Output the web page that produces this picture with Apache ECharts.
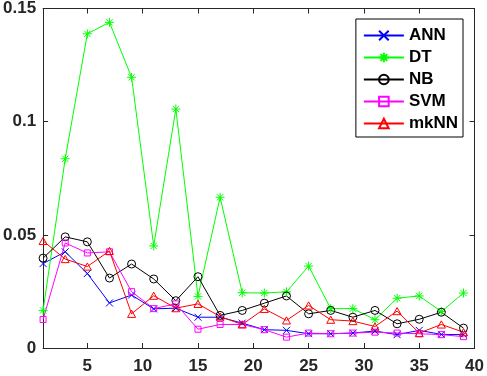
<!DOCTYPE html>
<html>
<head>
<meta charset="utf-8">
<script src="https://cdn.jsdelivr.net/npm/echarts@6/dist/echarts.min.js"></script>
<style>
  html, body { margin: 0; padding: 0; background: #fff; }
  #main { width: 487px; height: 376px; }
</style>
</head>
<body>
<div id="main"></div>
<script>
// x positions (odd steps 1..39)
const xs = [1, 3, 5, 7, 9, 11, 13, 15, 17, 19, 21, 23, 25, 27, 29, 31, 33, 35, 37, 39]
const xTicks = [5, 10, 15, 20, 25, 30, 35, 40]

const ann = [0.0373, 0.0425, 0.0329, 0.0199, 0.0234, 0.0173, 0.0176, 0.0136, 0.0136, 0.0110,
  0.0081, 0.0078, 0.0063, 0.0063, 0.0066, 0.0075, 0.0059, 0.0078, 0.0060, 0.0059]
const dt = [0.0166, 0.0836, 0.1388, 0.1439, 0.1196, 0.0451, 0.1056, 0.0228, 0.0666, 0.0244,
  0.0243, 0.0248, 0.0362, 0.0174, 0.0174, 0.0125, 0.0220, 0.0230, 0.0161, 0.0243]
const nb = [0.0397, 0.0491, 0.0469, 0.0309, 0.0371, 0.0305, 0.0209, 0.0315, 0.0144, 0.0166,
  0.0198, 0.0230, 0.0151, 0.0166, 0.0136, 0.0166, 0.0107, 0.0127, 0.0158, 0.0088]
const svm = [0.0126, 0.0464, 0.0420, 0.0425, 0.0249, 0.0174, 0.0195, 0.0083, 0.0104, 0.0104,
  0.0081, 0.0048, 0.0066, 0.0063, 0.0066, 0.0070, 0.0066, 0.0063, 0.0059, 0.0050]
const mknn = [0.0473, 0.0393, 0.0360, 0.0429, 0.0151, 0.0231, 0.0176, 0.0195, 0.0139, 0.0104,
  0.0173, 0.0122, 0.0188, 0.0125, 0.0119, 0.0095, 0.0163, 0.0066, 0.0104, 0.0070]

const FONT = '"Liberation Sans", Arial, sans-serif'

// marker shapes (stroked only, like matlab markers)
const SYM = {
  cross: 'path://M0,0L10,10M10,0L0,10',
  star: 'path://M5,0L5,10M0,5L10,5M1.5,1.5L8.5,8.5M8.5,1.5L1.5,8.5',
  circle: 'path://M0,5A5,5,0,1,1,10,5A5,5,0,1,1,0,5Z',
  square: 'path://M0,0L10,0L10,10L0,10Z',
  triangle: 'path://M5,0L10,9L0,9Z'
}

function makeSeries (name, vals, color, symbol, size) {
  return {
    name: name,
    type: 'line',
    data: xs.map((x, i) => [x, vals[i]]),
    symbol: symbol,
    symbolSize: size,
    symbolKeepAspect: true,
    lineStyle: { color: color, width: 1 },
    itemStyle: { color: 'rgba(0,0,0,0)', borderColor: color, borderWidth: 1 },
    emphasis: { disabled: true },
    z: 3
  }
}

const chart = echarts.init(document.getElementById('main'))
chart.setOption({
  animation: false,
  backgroundColor: '#fff',
  grid: { left: 43, right: 11, top: 6, bottom: 28, containLabel: false },
  legend: {
    orient: 'vertical',
    right: 24,
    top: 19,
    padding: [8, 5, 5, 7],
    itemWidth: 40,
    itemHeight: 12,
    itemGap: 5,
    backgroundColor: '#fff',
    borderColor: '#000',
    borderWidth: 1,
    borderRadius: 0,
    textStyle: { fontFamily: FONT, fontWeight: 'bold', fontSize: 17, color: '#000', lineHeight: 16 },
    data: ['ANN', 'DT', 'NB', 'SVM', 'mkNN']
  },
  xAxis: [{
    type: 'value',
    min: 1,
    max: 40,
    position: 'bottom',
    axisLine: { onZero: false, lineStyle: { color: '#262626', width: 1 } },
    axisTick: { inside: true, length: 5, customValues: xTicks, lineStyle: { color: '#262626' } },
    axisLabel: {
      customValues: xTicks, margin: 10,
      fontFamily: FONT, fontWeight: 'bold', fontSize: 17, color: '#262626'
    },
    splitLine: { show: false }
  }, {
    type: 'value',
    min: 1,
    max: 40,
    position: 'top',
    axisLine: { onZero: false, lineStyle: { color: '#262626', width: 1 } },
    axisTick: { inside: true, length: 5, customValues: xTicks, lineStyle: { color: '#262626' } },
    axisLabel: { show: false },
    splitLine: { show: false }
  }],
  yAxis: [{
    type: 'value',
    min: 0,
    max: 0.15,
    interval: 0.05,
    position: 'left',
    axisLine: { show: true, onZero: false, lineStyle: { color: '#262626', width: 1 } },
    axisTick: { show: true, inside: true, length: 5, lineStyle: { color: '#262626' } },
    axisLabel: { margin: 7, fontFamily: FONT, fontWeight: 'bold', fontSize: 17, color: '#262626' },
    splitLine: { show: false }
  }, {
    type: 'value',
    min: 0,
    max: 0.15,
    interval: 0.05,
    position: 'right',
    axisLine: { show: true, onZero: false, lineStyle: { color: '#262626', width: 1 } },
    axisTick: { show: true, inside: true, length: 5, lineStyle: { color: '#262626' } },
    axisLabel: { show: false },
    splitLine: { show: false }
  }],
  series: [
    makeSeries('ANN', ann, '#0000ff', SYM.cross, 7),
    makeSeries('DT', dt, '#00ff00', SYM.star, 9),
    makeSeries('NB', nb, '#000000', SYM.circle, 8),
    makeSeries('SVM', svm, '#ff00ff', SYM.square, 6),
    makeSeries('mkNN', mknn, '#ff0000', SYM.triangle, 8)
  ]
})
</script>
</body>
</html>
